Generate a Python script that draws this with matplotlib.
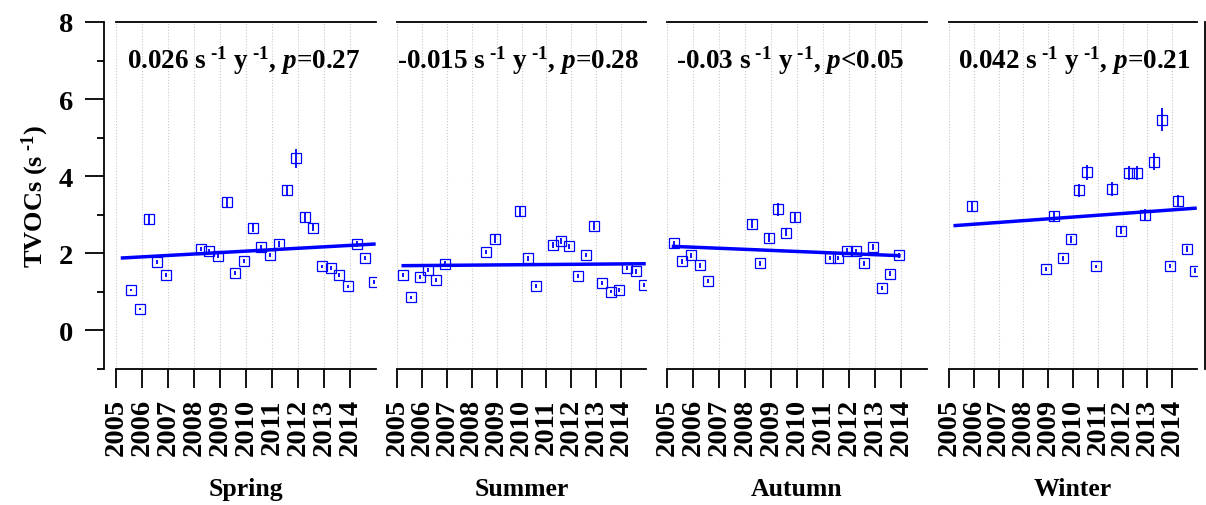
import numpy as np
import matplotlib
matplotlib.use("Agg")
import matplotlib.pyplot as plt
from matplotlib.ticker import MultipleLocator

plt.rcParams['font.family'] = ['Liberation Serif', 'DejaVu Serif']
plt.rcParams['font.weight'] = 'bold'
plt.rcParams['mathtext.fontset'] = 'custom'
plt.rcParams['mathtext.rm'] = 'Liberation Serif:bold'
plt.rcParams['mathtext.bf'] = 'Liberation Serif:bold'
plt.rcParams['mathtext.it'] = 'Liberation Serif:italic:bold'

############# DATA ##############

seasons = ["Spring", "Summer", "Autumn", "Winter"]
years = list(range(2005, 2015))
SUP = "$^{\\ \u20101}$"   # superscript with a plain hyphen, as in the original
annotations = ["0.026 s" + SUP + " y" + SUP + r", $\mathit{p}$=0.27",
               "-0.015 s" + SUP + " y" + SUP + r", $\mathit{p}$=0.28",
               "-0.03 s" + SUP + " y" + SUP + r", $\mathit{p}$<0.05",
               "0.042 s" + SUP + " y" + SUP + r", $\mathit{p}$=0.21"]

spring_x = [2005.58, 2005.92, 2006.25, 2006.58, 2006.92, 2008.25, 2008.58, 2008.92,
            2009.25, 2009.58, 2009.92, 2010.25, 2010.58, 2010.92, 2011.25, 2011.58,
            2011.92, 2012.25, 2012.58, 2012.92, 2013.25, 2013.58, 2013.92, 2014.25,
            2014.58, 2014.92]
spring_y = [1.05, 0.56, 2.89, 1.78, 1.44, 2.12, 2.05, 1.92, 3.32, 1.48, 1.80, 2.66,
            2.16, 1.96, 2.24, 3.63, 4.46, 2.94, 2.67, 1.66, 1.61, 1.44, 1.15, 2.24,
            1.88, 1.25]
spring_err = [0.03, 0.03, 0.12, 0.06, 0.05, 0.05, 0.05, 0.05, 0.15, 0.05, 0.06, 0.10,
              0.06, 0.05, 0.08, 0.15, 0.25, 0.12, 0.10, 0.05, 0.05, 0.05, 0.04, 0.07,
              0.05, 0.05]

summer_x = [2005.25, 2005.58, 2005.92, 2006.25, 2006.58, 2006.92, 2008.58, 2008.92,
            2009.92, 2010.25, 2010.58, 2011.25, 2011.58, 2011.92, 2012.25, 2012.58,
            2012.92, 2013.25, 2013.58, 2013.92, 2014.25, 2014.58, 2014.92]
summer_y = [1.44, 0.86, 1.38, 1.57, 1.30, 1.73, 2.03, 2.37, 3.09, 1.87, 1.15, 2.22,
            2.31, 2.18, 1.41, 1.96, 2.72, 1.23, 1.01, 1.06, 1.61, 1.53, 1.17]
summer_err = [0.05, 0.04, 0.05, 0.05, 0.05, 0.06, 0.06, 0.10, 0.15, 0.07, 0.05, 0.07,
              0.08, 0.07, 0.05, 0.06, 0.12, 0.05, 0.05, 0.05, 0.05, 0.06, 0.05]

autumn_x = [2005.25, 2005.58, 2005.92, 2006.25, 2006.58, 2008.25, 2008.58, 2008.92,
            2009.25, 2009.58, 2009.92, 2011.25, 2011.58, 2011.92, 2012.25, 2012.58,
            2012.92, 2013.25, 2013.58, 2013.92]
autumn_y = [2.26, 1.79, 1.95, 1.69, 1.28, 2.77, 1.74, 2.39, 3.14, 2.54, 2.95, 1.87,
            1.87, 2.07, 2.06, 1.74, 2.16, 1.11, 1.47, 1.95]
autumn_err = [0.06, 0.06, 0.06, 0.06, 0.06, 0.12, 0.06, 0.10, 0.17, 0.10, 0.13, 0.05,
              0.05, 0.06, 0.06, 0.06, 0.07, 0.05, 0.06, 0.06]

winter_x = [2005.92, 2008.92, 2009.25, 2009.58, 2009.92, 2010.25, 2010.58, 2010.92,
            2011.58, 2011.92, 2012.25, 2012.58, 2012.92, 2013.25, 2013.58, 2013.92,
            2014.25, 2014.58, 2014.92]
winter_y = [3.22, 1.60, 2.96, 1.87, 2.36, 3.63, 4.10, 1.66, 3.67, 2.59, 4.08, 4.08,
            3.00, 4.38, 5.47, 1.67, 3.37, 2.12, 1.55]
winter_err = [0.12, 0.05, 0.15, 0.06, 0.08, 0.18, 0.20, 0.05, 0.18, 0.10, 0.18, 0.18,
              0.15, 0.23, 0.29, 0.05, 0.15, 0.08, 0.06]

# trend lines (start / end)
trend_x = [[2005.25, 2014.92], [2005.25, 2014.92], [2005.25, 2013.92], [2005.25, 2014.92]]
trend_y = [[1.88, 2.24], [1.68, 1.73], [2.18, 1.94], [2.72, 3.17]]

#################################

xs = [spring_x, summer_x, autumn_x, winter_x]
ys = [spring_y, summer_y, autumn_y, winter_y]
errs = [spring_err, summer_err, autumn_err, winter_err]

W, H = 1206, 506
fig = plt.figure(figsize=(W / 100, H / 100), dpi=100)

# panel pixel extents (left, right) and left edge of the trend text
panel_px = [(116, 376), (397, 646), (667, 927), (949, 1197)]
text_px = [127, 397, 676, 958]
top_px, bot_px = 23, 370

for i, (l, r) in enumerate(panel_px):
    ax = fig.add_axes([l / W, 1 - bot_px / H, (r - l) / W, (bot_px - top_px) / H])

    ax.errorbar(xs[i], ys[i], yerr=errs[i], fmt='s', color='#0000ff',
                mfc='none', mec='#0000ff', ms=6.8, mew=0.9, elinewidth=1.3, capsize=0)
    ax.plot(trend_x[i], trend_y[i], color='#0000ff', lw=2.5)

    fig.text(text_px[i] / W, 1 - 61 / H, annotations[i], fontsize=19.5,
             fontweight='bold', ha='left', va='center')

    ax.set_xlim(2005, 2015)
    ax.set_ylim(-1, 8)
    ax.set_xticks(years)
    ax.set_xticklabels([str(y) for y in years], rotation=90, fontsize=20.5,
                       fontweight='bold', va='top')
    ax.tick_params(axis='x', direction='out', length=14, width=1.3, pad=7)

    ax.grid(True, axis='x', color='#c8c8c8', linestyle=':', linewidth=0.8)

    for s in ['top', 'bottom', 'left', 'right']:
        ax.spines[s].set_linewidth(1.3)
    ax.spines['right'].set_visible(False)

    if i == 0:
        ax.spines['left'].set_position(('outward', 9))
        ax.yaxis.set_major_locator(MultipleLocator(2))
        ax.yaxis.set_minor_locator(MultipleLocator(1))
        ax.tick_params(axis='y', which='major', direction='out', length=14,
                       width=1.3, pad=8, labelsize=20.5)
        ax.tick_params(axis='y', which='minor', direction='out', length=5, width=1.3)
        for lab in ax.get_yticklabels():
            lab.set_fontweight('bold')
    else:
        ax.spines['left'].set_visible(False)
        ax.tick_params(axis='y', which='both', left=False, labelleft=False)

    if i == 3:
        ax.spines['right'].set_visible(True)
        ax.spines['right'].set_position(('outward', 5.5))
        ax.tick_params(axis='y', which='both', right=False)

    fig.text((l + r) / 2 / W, 1 - 490 / H, seasons[i], fontsize=18.5,
             fontweight='bold', ha='center', va='center')

fig.text(35 / W, 1 - 197 / H, "TVOCs (s" + SUP + ")", rotation=90, fontsize=19,
         fontweight='bold', ha='center', va='center')

fig.savefig("out.png", dpi=100)
